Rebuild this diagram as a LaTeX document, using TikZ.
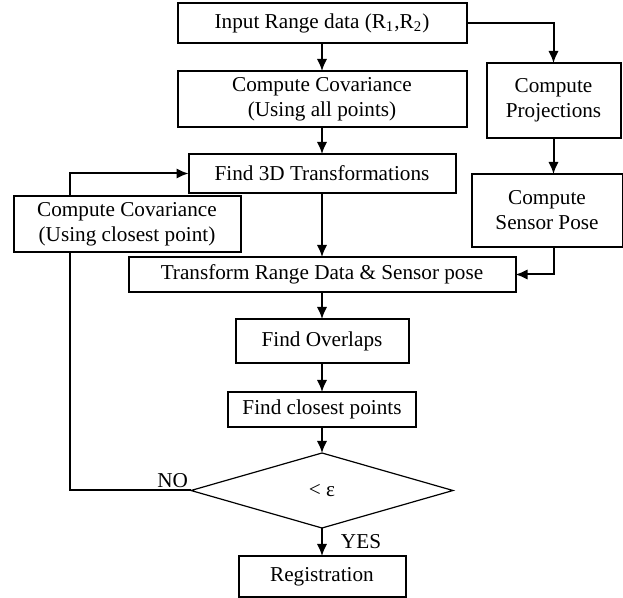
\documentclass[tikz,border=0pt]{standalone}
\usepackage{fontspec}
\setmainfont{Liberation Serif}
\usetikzlibrary{arrows.meta,positioning,shapes.geometric}
\tikzset{
    %Define standard arrow tip
    >={Latex[length=6pt,width=5.2pt]},
    %Define style for boxes
    stage/.style={
           rectangle,
           draw=black, line width=1pt,
           inner sep=2pt,
           outer sep=0pt,
           font=\fontsize{10.6}{12.5}\selectfont,
           align=center},
    decision/.style={
           diamond,
           aspect=3.5,
           draw=black, line width=0.6pt,
           inner sep=0pt,
           outer sep=0pt,
           minimum width=131pt,
           minimum height=37.5pt,
           font=\fontsize{10.6}{12.5}\selectfont},
    lbl/.style={
           font=\fontsize{10.6}{12.5}\selectfont,
           inner sep=1pt},
    % Define connector styles
    link/.style={
           line width=1pt},
    pil/.style={
           link,
           ->}
}
\begin{document}
\begin{tikzpicture}
 \useasboundingbox (0,0) rectangle (311.5pt,-299pt);
 %nodes
\node[stage, minimum width=144.5pt, minimum height=20pt](input) at (161pt,-11.5pt){Input Range data (R\textsubscript{1},R\textsubscript{2})};
\node[stage, minimum width=144.5pt, minimum height=28pt, below=14pt of input](covall){Compute Covariance\\(Using all points)};
\node[stage, minimum width=133.5pt, minimum height=19.5pt, below=13.5pt of covall](find3d){Find 3D Transformations};
\node[stage, minimum width=193.5pt, minimum height=17.5pt, below=32pt of find3d](transform){Transform Range Data \& Sensor pose};
\node[stage, minimum width=86.5pt, minimum height=22pt, below=13.5pt of transform](overlaps){Find Overlaps};
\node[stage, minimum width=94pt, minimum height=17.5pt, below=14.5pt of overlaps](closest){Find closest points};
\node[decision, below=13pt of closest](check){< ε};
\node[stage, minimum width=83.5pt, minimum height=20.5pt, below=14pt of check](registration){Registration};
\node[stage, minimum width=67pt, minimum height=37.5pt, below right=10pt and 10pt of input](proj){Compute\\Projections};
\node[stage, minimum width=75.5pt, minimum height=36.5pt, below=18pt of proj, xshift=-3.25pt](sensor){Compute\\Sensor Pose};
\node[stage, minimum width=113.5pt, minimum height=28pt, below=1.5pt of find3d.south west, anchor=north east, xshift=26pt](covclose){Compute Covariance\\(Using closest point)};
 %connectors
\draw[pil] (input) -- (covall);
\draw[pil] (covall) -- (find3d);
\draw[pil] (find3d) -- (transform);
\draw[pil] (transform) -- (overlaps);
\draw[pil] (overlaps) -- (closest);
\draw[pil] (closest) -- (check);
\draw[pil] (check) -- node[lbl, right=8pt]{YES} (registration);
\draw[pil] (input.east) -| (proj.north);
\draw[pil] (proj.south) -- (proj.south |- sensor.north);
\draw[pil] (sensor.south -| proj.south) |- (transform.east);
\draw[link] (check.west) -| node[lbl, pos=0, above left]{NO} ([xshift=28pt]covclose.south west);
\draw[pil] ([xshift=28pt]covclose.north west) |- (find3d.west);
\end{tikzpicture}
\end{document}
